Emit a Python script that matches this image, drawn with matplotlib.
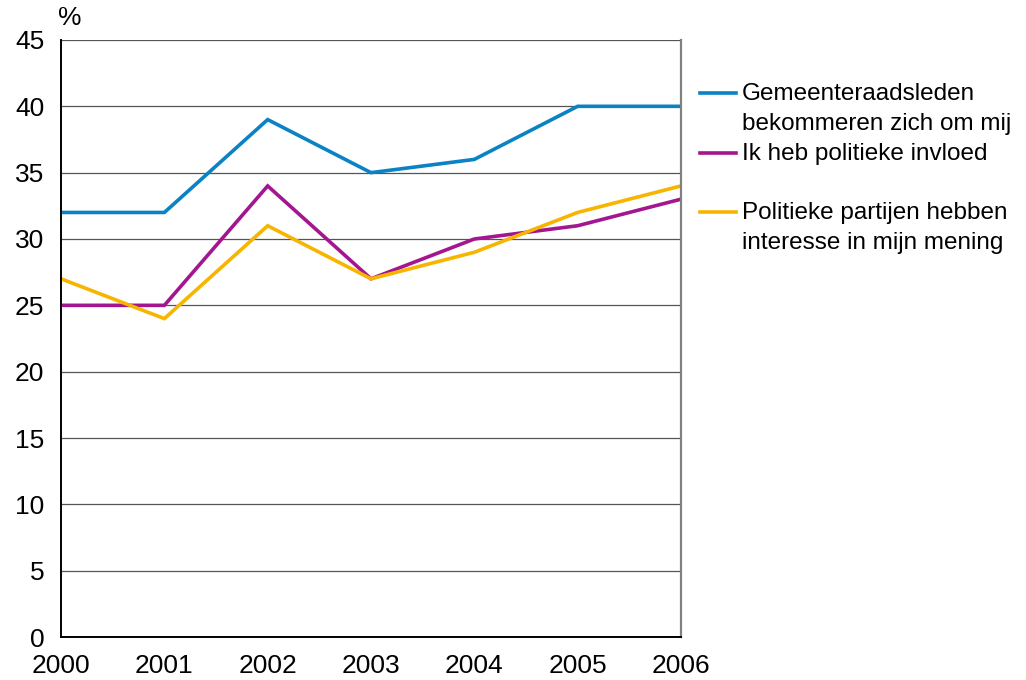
import matplotlib.pyplot as plt
from matplotlib.lines import Line2D

plt.rcParams['font.family'] = ['Liberation Sans', 'DejaVu Sans']

years = [2000, 2001, 2002, 2003, 2004, 2005, 2006]
gemeente = [32, 32, 39, 35, 36, 40, 40]
invloed = [25, 25, 34, 27, 30, 31, 33]
partijen = [27, 24, 31, 27, 29, 32, 34]

labels = ['Gemeenteraadsleden\nbekommeren zich om mij',
          'Ik heb politieke invloed',
          'Politieke partijen hebben\ninteresse in mijn mening']
colors = ['#0a82c4', '#a3168f', '#f7b500']

fig = plt.figure(figsize=(10.26, 6.8), dpi=100)
ax = fig.add_axes([0.0595, 0.0632, 0.6042, 0.878])

for vals, c in zip([gemeente, invloed, partijen], colors):
    ax.plot(years, vals, color=c, linewidth=2.6, solid_joinstyle='miter')

ax.set_xlim(2000, 2006)
ax.set_ylim(0, 45)
ax.set_yticks(range(0, 46, 5))
ax.set_xticks(years)
ax.grid(axis='y', color='#555555', linewidth=0.9)
ax.set_axisbelow(True)
ax.tick_params(length=0, labelsize=19)
ax.tick_params(axis='x', pad=12)
ax.tick_params(axis='y', pad=12)
ax.spines['top'].set_visible(False)
ax.spines['left'].set_color('#000000')
ax.spines['left'].set_linewidth(1.4)
ax.spines['bottom'].set_color('#000000')
ax.spines['bottom'].set_linewidth(1.4)
ax.spines['right'].set_color('#808080')
ax.spines['right'].set_linewidth(1.6)

fig.text(70 / 1026, 1 - 18 / 680, '%', fontsize=19, ha='center', va='center')

# legend
leg_y = [93, 153, 212]
for y, lab, c in zip(leg_y, labels, colors):
    fy = 1 - y / 680
    fig.add_artist(Line2D([700 / 1026, 736 / 1026], [fy, fy], color=c, linewidth=2.6))
    fig.text(742 / 1026, 1 - (y - 10) / 680, lab, fontsize=17.5, ha='left', va='top',
             linespacing=1.45)

fig.savefig('out.png', dpi=100)
